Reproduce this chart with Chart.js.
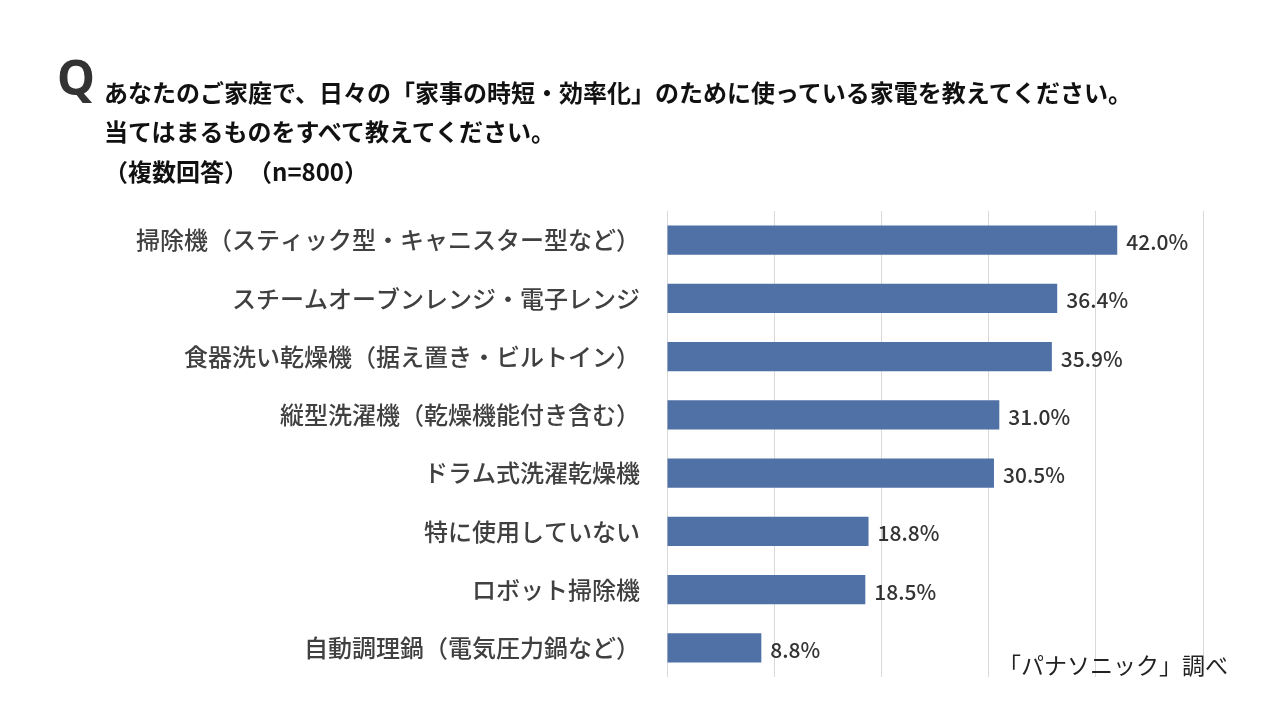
<!DOCTYPE html>
<html><head><meta charset="utf-8">
<script src="https://cdn.jsdelivr.net/npm/chart.js@4"></script>
<style>
html,body{margin:0;padding:0;background:#fff;}
#wrap{position:relative;width:1280px;height:720px;overflow:hidden;font-family:"Noto Sans CJK JP","Noto Sans",sans-serif;}
canvas{position:absolute;left:0;top:0;}
.t{position:absolute;white-space:nowrap;color:#111;font-weight:700;font-size:24px;line-height:1;}
#q{position:absolute;left:57px;top:53px;font-size:48px;font-weight:700;color:#333;line-height:1;font-family:"Noto Sans","Noto Sans CJK JP",sans-serif;}
#src{position:absolute;right:52px;top:653px;font-size:23px;color:#222;line-height:1;white-space:nowrap;}
</style></head>
<body><div id="wrap">
<canvas id="c" width="1280" height="720"></canvas>
<div id="q">Q</div>
<div class="t" style="left:104px;top:80px;">あなたのご家庭で、日々の「家事の時短・効率化」のために使っている家電を教えてください。</div>
<div class="t" style="left:104px;top:119px;">当てはまるものをすべて教えてください。</div>
<div class="t" style="left:104px;top:159px;">（複数回答）　（n=800）</div>
<div id="src">「パナソニック」調べ</div>
</div>
<script>
const categories = [
  "掃除機（スティック型・キャニスター型など）",
  "スチームオーブンレンジ・電子レンジ",
  "食器洗い乾燥機（据え置き・ビルトイン）",
  "縦型洗濯機（乾燥機能付き含む）",
  "ドラム式洗濯乾燥機",
  "特に使用していない",
  "ロボット掃除機",
  "自動調理鍋（電気圧力鍋など）"
];
const values = [42.0, 36.4, 35.9, 31.0, 30.5, 18.8, 18.5, 8.8];
const xTicks = [0, 10, 20, 30, 40, 50];

const valueLabels = {
  id: 'valueLabels',
  afterDatasetsDraw(chart) {
    const ctx = chart.ctx;
    const meta = chart.getDatasetMeta(0);
    ctx.save();
    ctx.font = '500 21px "Noto Sans CJK JP", "Noto Sans", sans-serif';
    ctx.fillStyle = '#333';
    ctx.textAlign = 'left';
    ctx.textBaseline = 'middle';
    meta.data.forEach((bar, i) => {
      ctx.fillText(values[i].toFixed(1) + '%', bar.x + 9, bar.y + 2);
    });
    ctx.restore();
  }
};

new Chart(document.getElementById('c'), {
  type: 'bar',
  data: {
    labels: categories,
    datasets: [{
      data: values,
      backgroundColor: '#4f71a6',
      borderWidth: 0,
      categoryPercentage: 1.0,
      barPercentage: 0.5
    }]
  },
  options: {
    indexAxis: 'y',
    responsive: false,
    animation: false,
    devicePixelRatio: 1,
    layout: { padding: { left: 0, right: 77, top: 211, bottom: 43 } },
    plugins: { legend: { display: false }, tooltip: { enabled: false }, title: { display: false } },
    scales: {
      x: {
        min: xTicks[0], max: xTicks[xTicks.length - 1],
        afterBuildTicks(scale) { scale.ticks = xTicks.map(v => ({ value: v })); },
        ticks: { display: false },
        grid: { color: '#d9d9d9', lineWidth: 1, drawTicks: false },
        border: { display: false }
      },
      y: {
        afterFit(scale) { scale.width = 667; },
        grid: { display: false, drawTicks: false },
        border: { display: false },
        ticks: {
          padding: 27,
          color: '#404040',
          font: { family: '"Noto Sans CJK JP", sans-serif', size: 24, weight: '500' }
        }
      }
    }
  },
  plugins: [valueLabels]
});
</script>
</body></html>
